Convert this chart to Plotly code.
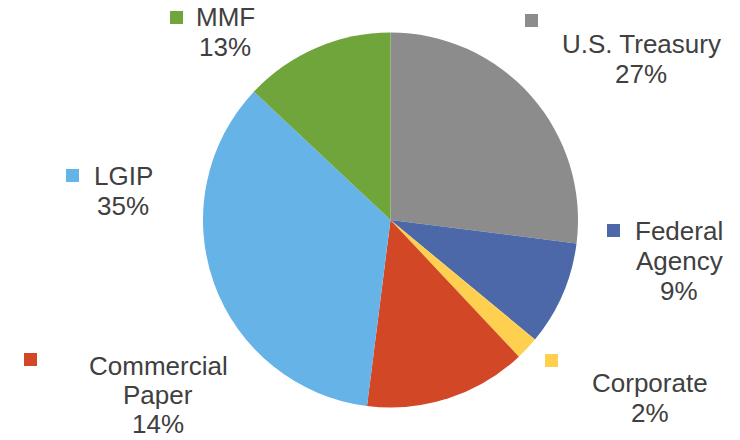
import plotly.graph_objects as go

# Portfolio allocation by investment type
categories = ["U.S. Treasury", "Federal Agency", "Corporate", "Commercial Paper", "LGIP", "MMF"]
label_lines = [["U.S. Treasury"], ["Federal", "Agency"], ["Corporate"], ["Commercial", "Paper"], ["LGIP"], ["MMF"]]
values = [27, 9, 2, 14, 35, 13]
colors = ["#8C8C8C", "#4D68A8", "#FFD050", "#D24726", "#66B3E8", "#70A53C"]

W, H = 740, 440

# label block placement (pixels): text centre x, first line centre y, line step, key square left/top
label_pos = [
    (641, 44, 30, 525, 14),
    (679, 231, 30, 607, 224),
    (650, 383, 30, 545, 354),
    (158, 366, 29, 24, 353),
    (123, 176, 30, 66, 169),
    (225, 17, 30, 170, 11),
]
KEY = 13

cx, cy, r = 390.5, 220, 187.5

fig = go.Figure(go.Pie(
    labels=categories,
    values=values,
    sort=False,
    direction="clockwise",
    rotation=0,
    marker=dict(colors=colors, line=dict(width=0)),
    textinfo="none",
    hoverinfo="label+percent",
    showlegend=False,
    domain=dict(x=[(cx - r) / W, (cx + r) / W], y=[1 - (cy + r) / H, 1 - (cy - r) / H]),
))

total = sum(values)
annotations = []
shapes = []
for lines, v, col, (tx, ty, step, kx, ky) in zip(label_lines, values, colors, label_pos):
    pct = f"{round(100 * v / total)}%"
    for i, line in enumerate(lines + [pct]):
        annotations.append(dict(
            x=tx / W, y=1 - (ty + i * step) / H, xref="paper", yref="paper",
            text=line, showarrow=False, xanchor="center", yanchor="middle",
            font=dict(family="Liberation Sans, Arial, sans-serif", size=26, color="#404040"),
        ))
    shapes.append(dict(
        type="rect", xref="paper", yref="paper",
        x0=kx / W, x1=(kx + KEY) / W, y0=1 - (ky + KEY) / H, y1=1 - ky / H,
        fillcolor=col, line=dict(width=0),
    ))

fig.update_layout(
    width=W, height=H,
    margin=dict(l=0, r=0, t=0, b=0),
    paper_bgcolor="white", plot_bgcolor="white",
    annotations=annotations, shapes=shapes,
)

fig.write_html("out.html")
